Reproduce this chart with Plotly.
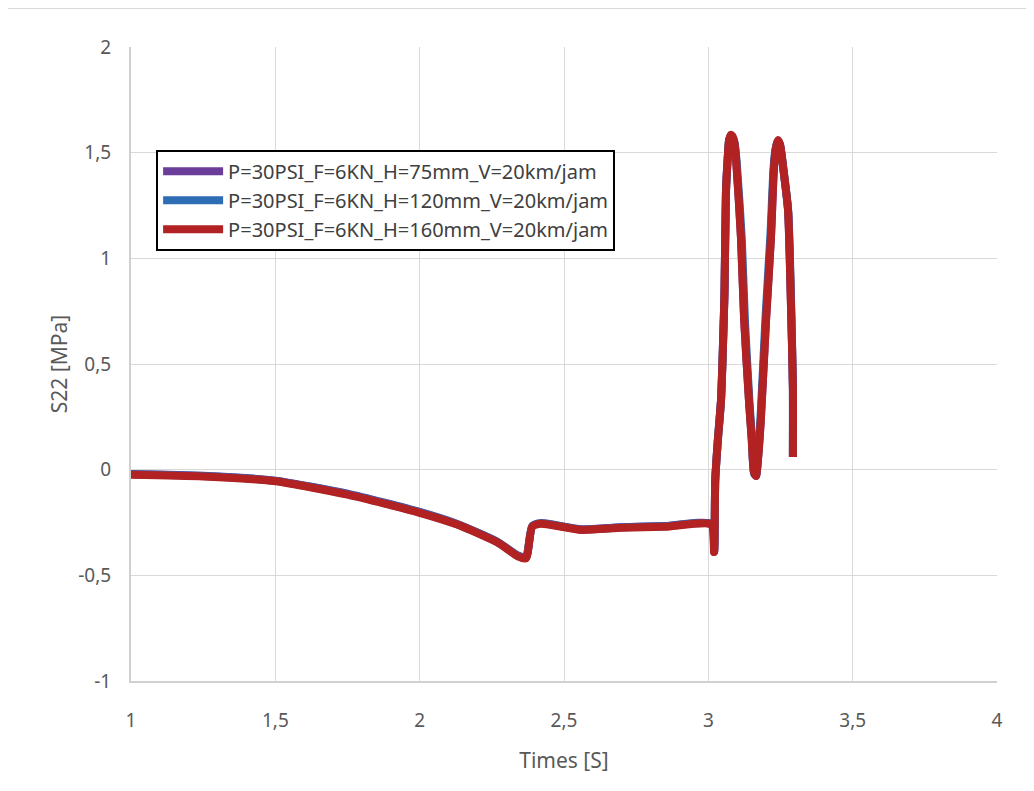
import plotly.graph_objects as go

# Time [s] and S22 [MPa]
t_red = [1.00, 1.25, 1.50, 1.75, 2.00, 2.13, 2.27, 2.34, 2.368, 2.39, 2.42, 2.56, 2.70, 2.85, 3.01, 3.02,
         3.024, 3.033, 3.044, 3.051, 3.056, 3.061, 3.067, 3.072, 3.078, 3.083, 3.090, 3.096, 3.113, 3.124, 3.141,
         3.150, 3.158, 3.165, 3.172, 3.182, 3.200, 3.217, 3.227, 3.234, 3.241, 3.248, 3.262, 3.276, 3.286, 3.293, 3.293]
s_red = [-0.024, -0.032, -0.055, -0.118, -0.204, -0.26, -0.345, -0.41, -0.42, -0.27, -0.256, -0.285, -0.275, -0.27, -0.26, -0.39,
         -0.05, 0.14, 0.33, 0.60, 0.84, 1.31, 1.47, 1.56, 1.585, 1.58, 1.55, 1.47, 1.10, 0.71, 0.32,
         0.15, -0.01, -0.03, 0.05, 0.24, 0.71, 1.10, 1.42, 1.52, 1.56, 1.54, 1.40, 1.23, 0.79, 0.39, 0.06]

t_blue = [1.00, 1.25, 1.50, 1.75, 2.00, 2.13, 2.27, 2.34, 2.368, 2.39, 2.42, 2.56, 2.70, 2.85, 3.01, 3.02,
          3.024, 3.033, 3.044, 3.051, 3.056, 3.061, 3.067, 3.072, 3.078, 3.083, 3.091, 3.098, 3.116, 3.127, 3.143,
          3.152, 3.159, 3.166, 3.172, 3.181, 3.198, 3.215, 3.226, 3.233, 3.240, 3.248, 3.263, 3.277, 3.287, 3.293, 3.293]
s_blue = [-0.022, -0.030, -0.053, -0.116, -0.202, -0.258, -0.343, -0.408, -0.418, -0.268, -0.254, -0.283, -0.273, -0.268, -0.258, -0.388,
          -0.05, 0.14, 0.33, 0.60, 0.84, 1.31, 1.47, 1.56, 1.58, 1.575, 1.545, 1.46, 1.09, 0.70, 0.31,
          0.13, -0.02, -0.025, 0.06, 0.25, 0.72, 1.11, 1.43, 1.52, 1.555, 1.535, 1.39, 1.22, 0.78, 0.38, 0.07]

t_purple = [1.00, 1.25, 1.50, 1.75, 2.00, 2.13, 2.27, 2.34, 2.368, 2.39, 2.42, 2.56, 2.70, 2.85, 3.01, 3.02,
            3.024, 3.033, 3.044, 3.051, 3.056, 3.061, 3.067, 3.072, 3.078, 3.083, 3.090, 3.096, 3.113, 3.124, 3.141,
            3.150, 3.158, 3.165, 3.172, 3.182, 3.200, 3.217, 3.227, 3.234, 3.241, 3.248, 3.262, 3.276, 3.286, 3.293, 3.293]
s_purple = [-0.020, -0.029, -0.052, -0.114, -0.200, -0.257, -0.342, -0.406, -0.416, -0.267, -0.253, -0.282, -0.272, -0.267, -0.257, -0.386,
            -0.05, 0.14, 0.33, 0.60, 0.84, 1.31, 1.47, 1.56, 1.58, 1.575, 1.55, 1.47, 1.10, 0.71, 0.32,
            0.15, -0.014, -0.03, 0.05, 0.24, 0.71, 1.10, 1.42, 1.52, 1.555, 1.54, 1.40, 1.23, 0.79, 0.39, 0.06]

names = ["P=30PSI_F=6KN_H=75mm_V=20km/jam",
         "P=30PSI_F=6KN_H=120mm_V=20km/jam",
         "P=30PSI_F=6KN_H=160mm_V=20km/jam"]
colors = ["#6A3D9A", "#2E6DB4", "#B22222"]

x_ticks = [1, 1.5, 2, 2.5, 3, 3.5, 4]
x_ticktext = ["1", "1,5", "2", "2,5", "3", "3,5", "4"]
y_ticks = [-1, -0.5, 0, 0.5, 1, 1.5, 2]
y_ticktext = ["-1", "-0,5", "0", "0,5", "1", "1,5", "2"]

fig = go.Figure()
for t, s, n, c in zip([t_purple, t_blue, t_red], [s_purple, s_blue, s_red], names, colors):
    fig.add_trace(go.Scatter(x=t, y=s, mode="lines", name=n,
                             line=dict(color=c, width=8, shape="spline", smoothing=0.6)))

fig.update_layout(
    width=1034, height=791,
    margin=dict(l=123, r=45, t=39, b=118, autoexpand=False),
    paper_bgcolor="white", plot_bgcolor="white",
    font=dict(family="Noto Sans, sans-serif", color="#595959", size=18),
    showlegend=True,
    legend=dict(x=0.029, y=0.838, xanchor="left", yanchor="top",
                bgcolor="white", bordercolor="black", borderwidth=2,
                font=dict(size=20, color="#404040", family="Noto Sans, sans-serif"),
                tracegroupgap=0, itemwidth=60),
    xaxis=dict(range=[1, 4], tickvals=x_ticks, ticktext=x_ticktext, automargin=False,
               showgrid=True, gridcolor="#D9D9D9", gridwidth=1,
               showline=True, linecolor="#D0D0D0", linewidth=2,
               zeroline=False, ticks="", ticklabelstandoff=21,
               title=dict(text="Times [S]", font=dict(size=21, color="#595959"), standoff=22),
               tickfont=dict(size=19, color="#595959")),
    yaxis=dict(range=[-1, 2], tickvals=y_ticks, ticktext=y_ticktext, automargin=False,
               showgrid=True, gridcolor="#D9D9D9", gridwidth=1,
               showline=True, linecolor="#D0D0D0", linewidth=2,
               zeroline=False, ticks="", ticklabelstandoff=14,
               title=dict(text="S22 [MPa]", font=dict(size=21, color="#595959"), standoff=5),
               tickfont=dict(size=19, color="#595959")),
    shapes=[dict(type="line", xref="paper", yref="paper", x0=-0.16, x1=1.06, y0=1.0615, y1=1.0615,
                 line=dict(color="#D9D9D9", width=2))],
)

fig.write_html("out.html")
